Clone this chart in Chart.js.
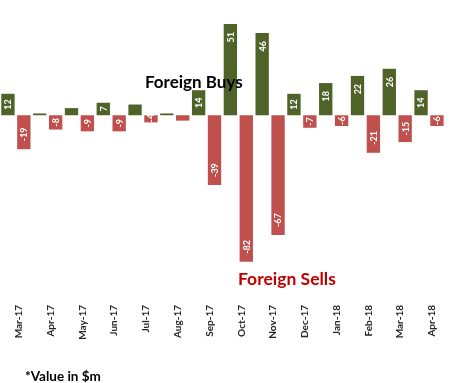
<!DOCTYPE html>
<html><head><meta charset="utf-8">
<script src="https://cdn.jsdelivr.net/npm/chart.js@4.4.1/dist/chart.umd.min.js"></script>
<style>html,body{margin:0;padding:0;background:#fff;}#wrap{width:452px;height:383px;position:relative;}</style>
</head><body><div id="wrap"><canvas id="c" width="452" height="383"></canvas></div>
<script>
const months = ["Mar-17","Apr-17","May-17","Jun-17","Jul-17","Aug-17","Sep-17","Oct-17","Nov-17","Dec-17","Jan-18","Feb-18","Mar-18","Apr-18"];
const foreignBuys = [12, 1, 4, 7, 6, 1, 14, 51, 46, 12, 18, 22, 26, 14];
const foreignSells = [-19, -8, -9, -9, -4, -3, -39, -82, -67, -7, -6, -21, -15, -6];
const buysLabel = "Foreign Buys";
const sellsLabel = "Foreign Sells";
const noteText = "*Value in $m";
const yMin = -100, yMax = 60;
const minLabelBuys = 7, minLabelSells = 4;

const GREEN = '#4f6228', RED = '#c0504d';

const labelPlugin = {
  id: 'barLabels',
  afterDatasetsDraw(chart) {
    const ctx = chart.ctx;
    chart.data.datasets.forEach((ds, di) => {
      const meta = chart.getDatasetMeta(di);
      meta.data.forEach((bar, i) => {
        const v = ds.data[i];
        if (v >= 0 && v < minLabelBuys) return;
        if (v < 0 && -v < minLabelSells) return;
        const txt = String(v);
        ctx.save();
        ctx.font = 'bold 9px Lato';
        const w = ctx.measureText(txt).width;
        const len = Math.abs(bar.base - bar.y);
        const pad = Math.max(0, Math.min(8, (len - w) / 2));
        ctx.translate(bar.x, v >= 0 ? bar.y + pad : bar.y - pad);
        ctx.rotate(-Math.PI / 2);
        ctx.fillStyle = '#ffffff';
        ctx.textBaseline = 'middle';
        ctx.textAlign = v >= 0 ? 'right' : 'left';
        ctx.fillText(txt, 0, 0.5);
        ctx.restore();
      });
    });
  },
  afterDraw(chart) {
    const ctx = chart.ctx;
    ctx.save();
    ctx.textBaseline = 'middle';
    ctx.textAlign = 'left';
    ctx.font = 'bold 17px Lato';
    ctx.fillStyle = '#000000';
    ctx.fillText(buysLabel, 145, 83);
    ctx.font = 'bold 17.5px Lato';
    ctx.fillStyle = '#c00000';
    ctx.fillText(sellsLabel, 238, 279);
    ctx.font = 'bold 13.5px Lato';
    ctx.fillStyle = '#000000';
    ctx.fillText(noteText, 25, 377);
    ctx.restore();
  }
};

new Chart(document.getElementById('c'), {
  type: 'bar',
  data: {
    labels: months,
    datasets: [
      { label: buysLabel, data: foreignBuys, backgroundColor: GREEN, borderWidth: 0 },
      { label: sellsLabel, data: foreignSells, backgroundColor: RED, borderWidth: 0 }
    ]
  },
  options: {
    responsive: false,
    animation: false,
    devicePixelRatio: 1,
    layout: { padding: { left: 0, right: 0, top: 8, bottom: 0 } },
    datasets: { bar: { categoryPercentage: 1.0, barPercentage: 0.84 } },
    plugins: { legend: { display: false }, tooltip: { enabled: false } },
    scales: {
      x: {
        grid: { display: false, drawTicks: false },
        border: { display: false },
        ticks: {
          autoSkip: false, minRotation: 90, maxRotation: 90, padding: 11, labelOffset: 3,
          color: '#262626', font: { family: 'Lato', weight: 'bold', size: 10 }
        },
        afterFit(s) { s.height = 89; }
      },
      y: {
        display: false,
        min: yMin, max: yMax
      }
    }
  },
  plugins: [labelPlugin]
});
</script>
</body></html>
